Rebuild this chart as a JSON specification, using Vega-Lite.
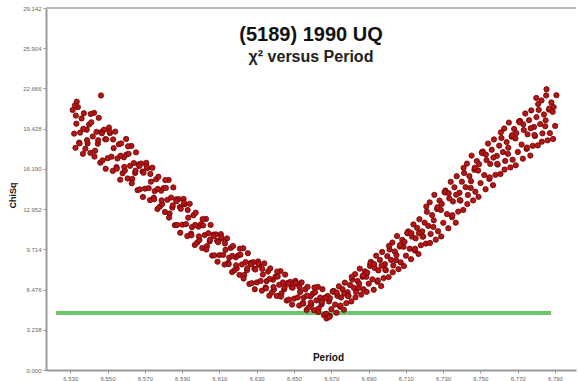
{
  "$schema": "https://vega.github.io/schema/vega-lite/v6.json",
  "width": 530,
  "height": 362,
  "autosize": {"type": "none"},
  "padding": {"left": 46, "top": 8, "right": 3, "bottom": 11},
  "background": "white",
  "config": {"font": "Liberation Sans", "view": {"stroke": null}},
  "title": {
    "text": "(5189) 1990 UQ",
    "subtitle": "χ² versus Period",
    "fontSize": 20,
    "fontWeight": "bold",
    "color": "#111",
    "subtitleFontSize": 16,
    "subtitleFontWeight": "bold",
    "subtitleColor": "#222",
    "subtitlePadding": 4,
    "anchor": "middle",
    "frame": "group",
    "offset": -60
  },
  "data": {"values": [
    {"period":6.5313,"chisq":20.93},{"period":6.5321,"chisq":19.03},{"period":6.5328,"chisq":17.89},
    {"period":6.5333,"chisq":19.83},{"period":6.5341,"chisq":21.16},{"period":6.5348,"chisq":18.31},
    {"period":6.5353,"chisq":19.11},{"period":6.5361,"chisq":20.25},{"period":6.5368,"chisq":17.4},
    {"period":6.5373,"chisq":20.67},{"period":6.5381,"chisq":17.82},{"period":6.5388,"chisq":19.34},
    {"period":6.5393,"chisq":18.24},{"period":6.5401,"chisq":19.76},{"period":6.5408,"chisq":17.48},
    {"period":6.5413,"chisq":19.94},{"period":6.5421,"chisq":18.8},{"period":6.5428,"chisq":20.7},
    {"period":6.5433,"chisq":17.65},{"period":6.5441,"chisq":19.17},{"period":6.5448,"chisq":18.22},
    {"period":6.5453,"chisq":20.3},{"period":6.5461,"chisq":16.69},{"period":6.5468,"chisq":19.16},
    {"period":6.5473,"chisq":16.87},{"period":6.5481,"chisq":19.34},{"period":6.5488,"chisq":18.58},
    {"period":6.5493,"chisq":18.57},{"period":6.5501,"chisq":17.05},{"period":6.5508,"chisq":19.52},
    {"period":6.5513,"chisq":19.07},{"period":6.5521,"chisq":17.17},{"period":6.5528,"chisq":16.03},
    {"period":6.5533,"chisq":17.86},{"period":6.5541,"chisq":19.19},{"period":6.5548,"chisq":16.34},
    {"period":6.5553,"chisq":17.03},{"period":6.5561,"chisq":18.17},{"period":6.5568,"chisq":15.32},
    {"period":6.5573,"chisq":18.24},{"period":6.5581,"chisq":15.84},{"period":6.5588,"chisq":17.12},
    {"period":6.5593,"chisq":16.06},{"period":6.5601,"chisq":17.34},{"period":6.5608,"chisq":15.42},
    {"period":6.5613,"chisq":17.4},{"period":6.5621,"chisq":16.44},{"period":6.5628,"chisq":18.04},
    {"period":6.5633,"chisq":15.38},{"period":6.5641,"chisq":16.66},{"period":6.5648,"chisq":15.86},
    {"period":6.5653,"chisq":17.52},{"period":6.5661,"chisq":14.48},{"period":6.5668,"chisq":16.56},
    {"period":6.5673,"chisq":14.54},{"period":6.5681,"chisq":16.62},{"period":6.5688,"chisq":15.98},
    {"period":6.5693,"chisq":15.88},{"period":6.5701,"chisq":14.6},{"period":6.5708,"chisq":16.68},
    {"period":6.5713,"chisq":16.24},{"period":6.5721,"chisq":14.64},{"period":6.5728,"chisq":13.68},
    {"period":6.5733,"chisq":15.16},{"period":6.5741,"chisq":16.28},{"period":6.5748,"chisq":13.88},
    {"period":6.5753,"chisq":14.4},{"period":6.5761,"chisq":15.36},{"period":6.5768,"chisq":12.96},
    {"period":6.5773,"chisq":15.56},{"period":6.5781,"chisq":13.16},{"period":6.5788,"chisq":14.44},
    {"period":6.5793,"chisq":13.36},{"period":6.5801,"chisq":14.64},{"period":6.5808,"chisq":12.72},
    {"period":6.5813,"chisq":14.66},{"period":6.5821,"chisq":13.7},{"period":6.5828,"chisq":15.3},
    {"period":6.5833,"chisq":12.6},{"period":6.5841,"chisq":13.88},{"period":6.5848,"chisq":13.08},
    {"period":6.5853,"chisq":14.7},{"period":6.5861,"chisq":11.66},{"period":6.5868,"chisq":13.74},
    {"period":6.5873,"chisq":11.68},{"period":6.5881,"chisq":13.76},{"period":6.5888,"chisq":13.12},
    {"period":6.5893,"chisq":12.98},{"period":6.5901,"chisq":11.7},{"period":6.5908,"chisq":13.78},
    {"period":6.5913,"chisq":13.34},{"period":6.5921,"chisq":11.74},{"period":6.5928,"chisq":10.78},
    {"period":6.5933,"chisq":12.26},{"period":6.5941,"chisq":13.38},{"period":6.5948,"chisq":10.98},
    {"period":6.5953,"chisq":11.5},{"period":6.5961,"chisq":12.46},{"period":6.5968,"chisq":10.06},
    {"period":6.5973,"chisq":12.66},{"period":6.5981,"chisq":10.26},{"period":6.5988,"chisq":11.54},
    {"period":6.5993,"chisq":10.46},{"period":6.6001,"chisq":11.74},{"period":6.6008,"chisq":9.82},
    {"period":6.6013,"chisq":11.64},{"period":6.6021,"chisq":10.86},{"period":6.6028,"chisq":12.16},
    {"period":6.6033,"chisq":9.97},{"period":6.6041,"chisq":11.01},{"period":6.6048,"chisq":10.36},
    {"period":6.6053,"chisq":11.68},{"period":6.6061,"chisq":9.21},{"period":6.6068,"chisq":10.9},
    {"period":6.6073,"chisq":9.23},{"period":6.6081,"chisq":10.92},{"period":6.6088,"chisq":10.4},
    {"period":6.6093,"chisq":10.29},{"period":6.6101,"chisq":9.25},{"period":6.6108,"chisq":10.94},
    {"period":6.6113,"chisq":10.57},{"period":6.6121,"chisq":9.27},{"period":6.6128,"chisq":8.49},
    {"period":6.6133,"chisq":9.68},{"period":6.6141,"chisq":10.59},{"period":6.6148,"chisq":8.64},
    {"period":6.6153,"chisq":9.05},{"period":6.6161,"chisq":9.83},{"period":6.6168,"chisq":7.88},
    {"period":6.6173,"chisq":9.98},{"period":6.6181,"chisq":8.03},{"period":6.6188,"chisq":9.07},
    {"period":6.6193,"chisq":8.18},{"period":6.6201,"chisq":9.22},{"period":6.6208,"chisq":7.66},
    {"period":6.6213,"chisq":9.28},{"period":6.6221,"chisq":8.5},{"period":6.6228,"chisq":9.8},
    {"period":6.6233,"chisq":7.65},{"period":6.6241,"chisq":8.69},{"period":6.6248,"chisq":8.04},
    {"period":6.6253,"chisq":9.4},{"period":6.6261,"chisq":6.93},{"period":6.6268,"chisq":8.62},
    {"period":6.6273,"chisq":6.99},{"period":6.6281,"chisq":8.68},{"period":6.6288,"chisq":8.16},
    {"period":6.6293,"chisq":8.09},{"period":6.6301,"chisq":7.05},{"period":6.6308,"chisq":8.74},
    {"period":6.6313,"chisq":8.47},{"period":6.6321,"chisq":7.17},{"period":6.6328,"chisq":6.39},
    {"period":6.6333,"chisq":7.68},{"period":6.6341,"chisq":8.59},{"period":6.6348,"chisq":6.64},
    {"period":6.6353,"chisq":7.15},{"period":6.6361,"chisq":7.93},{"period":6.6368,"chisq":5.98},
    {"period":6.6373,"chisq":8.18},{"period":6.6381,"chisq":6.23},{"period":6.6388,"chisq":7.27},
    {"period":6.6393,"chisq":6.48},{"period":6.6401,"chisq":7.52},{"period":6.6408,"chisq":5.96},
    {"period":6.6413,"chisq":7.52},{"period":6.6421,"chisq":6.86},{"period":6.6428,"chisq":7.96},
    {"period":6.6433,"chisq":6.17},{"period":6.6441,"chisq":7.05},{"period":6.6448,"chisq":6.5},
    {"period":6.6453,"chisq":7.68},{"period":6.6461,"chisq":5.59},{"period":6.6468,"chisq":7.02},
    {"period":6.6473,"chisq":5.67},{"period":6.6481,"chisq":7.1},{"period":6.6488,"chisq":6.66},
    {"period":6.6493,"chisq":6.63},{"period":6.6501,"chisq":5.75},{"period":6.6508,"chisq":7.18},
    {"period":6.6513,"chisq":6.95},{"period":6.6521,"chisq":5.85},{"period":6.6528,"chisq":5.19},
    {"period":6.6533,"chisq":6.28},{"period":6.6541,"chisq":7.05},{"period":6.6548,"chisq":5.4},
    {"period":6.6553,"chisq":5.83},{"period":6.6561,"chisq":6.49},{"period":6.6568,"chisq":4.84},
    {"period":6.6573,"chisq":6.7},{"period":6.6581,"chisq":5.05},{"period":6.6588,"chisq":5.93},
    {"period":6.6593,"chisq":5.26},{"period":6.6601,"chisq":6.14},{"period":6.6608,"chisq":4.82},
    {"period":6.6613,"chisq":6.26},{"period":6.6621,"chisq":5.6},{"period":6.6628,"chisq":6.7},
    {"period":6.6633,"chisq":4.95},{"period":6.6641,"chisq":5.83},{"period":6.6648,"chisq":5.28},
    {"period":6.6653,"chisq":6.5},{"period":6.6661,"chisq":4.41},{"period":6.6668,"chisq":5.84},
    {"period":6.6673,"chisq":4.53},{"period":6.6681,"chisq":5.96},{"period":6.6688,"chisq":5.52},
    {"period":6.6693,"chisq":5.78},{"period":6.6701,"chisq":4.9},{"period":6.6708,"chisq":6.33},
    {"period":6.6713,"chisq":6.37},{"period":6.6721,"chisq":5.27},{"period":6.6728,"chisq":4.61},
    {"period":6.6733,"chisq":5.97},{"period":6.6741,"chisq":6.74},{"period":6.6748,"chisq":5.09},
    {"period":6.6753,"chisq":5.84},{"period":6.6761,"chisq":6.5},{"period":6.6768,"chisq":4.85},
    {"period":6.6773,"chisq":7.03},{"period":6.6781,"chisq":5.38},{"period":6.6788,"chisq":6.26},
    {"period":6.6793,"chisq":5.96},{"period":6.6801,"chisq":6.84},{"period":6.6808,"chisq":5.52},
    {"period":6.6813,"chisq":7.28},{"period":6.6821,"chisq":6.62},{"period":6.6828,"chisq":7.72},
    {"period":6.6833,"chisq":6.29},{"period":6.6841,"chisq":7.17},{"period":6.6848,"chisq":6.62},
    {"period":6.6853,"chisq":8.16},{"period":6.6861,"chisq":6.07},{"period":6.6868,"chisq":7.5},
    {"period":6.6873,"chisq":6.51},{"period":6.6881,"chisq":7.94},{"period":6.6888,"chisq":7.5},
    {"period":6.6893,"chisq":7.83},{"period":6.6901,"chisq":6.95},{"period":6.6908,"chisq":8.38},
    {"period":6.6913,"chisq":8.7},{"period":6.6921,"chisq":7.3},{"period":6.6928,"chisq":6.46},
    {"period":6.6933,"chisq":8.22},{"period":6.6941,"chisq":9.2},{"period":6.6948,"chisq":7.1},
    {"period":6.6953,"chisq":8.02},{"period":6.6961,"chisq":8.86},{"period":6.6968,"chisq":6.76},
    {"period":6.6973,"chisq":9.5},{"period":6.6981,"chisq":7.4},{"period":6.6988,"chisq":8.52},
    {"period":6.6993,"chisq":8.04},{"period":6.7001,"chisq":9.16},{"period":6.7008,"chisq":7.48},
    {"period":6.7013,"chisq":9.7},{"period":6.7021,"chisq":8.86},{"period":6.7028,"chisq":10.26},
    {"period":6.7033,"chisq":8.42},{"period":6.7041,"chisq":9.54},{"period":6.7048,"chisq":8.84},
    {"period":6.7053,"chisq":10.78},{"period":6.7061,"chisq":8.12},{"period":6.7068,"chisq":9.94},
    {"period":6.7073,"chisq":8.66},{"period":6.7081,"chisq":10.48},{"period":6.7088,"chisq":9.92},
    {"period":6.7093,"chisq":10.32},{"period":6.7101,"chisq":9.2},{"period":6.7108,"chisq":11.02},
    {"period":6.7113,"chisq":11.16},{"period":6.7121,"chisq":9.76},{"period":6.7128,"chisq":8.92},
    {"period":6.7133,"chisq":10.74},{"period":6.7141,"chisq":11.72},{"period":6.7148,"chisq":9.62},
    {"period":6.7153,"chisq":10.6},{"period":6.7161,"chisq":11.44},{"period":6.7168,"chisq":9.34},
    {"period":6.7173,"chisq":12.14},{"period":6.7181,"chisq":10.04},{"period":6.7188,"chisq":11.16},
    {"period":6.7193,"chisq":10.74},{"period":6.7201,"chisq":11.86},{"period":6.7208,"chisq":10.18},
    {"period":6.7213,"chisq":12.74},{"period":6.7221,"chisq":11.6},{"period":6.7228,"chisq":13.5},
    {"period":6.7233,"chisq":10.95},{"period":6.7241,"chisq":12.47},{"period":6.7248,"chisq":11.52},
    {"period":6.7253,"chisq":14.1},{"period":6.7261,"chisq":10.49},{"period":6.7268,"chisq":12.96},
    {"period":6.7273,"chisq":11.17},{"period":6.7281,"chisq":13.64},{"period":6.7288,"chisq":12.88},
    {"period":6.7293,"chisq":13.37},{"period":6.7301,"chisq":11.85},{"period":6.7308,"chisq":14.32},
    {"period":6.7313,"chisq":14.45},{"period":6.7321,"chisq":12.55},{"period":6.7328,"chisq":11.41},
    {"period":6.7333,"chisq":13.82},{"period":6.7341,"chisq":15.15},{"period":6.7348,"chisq":12.3},
    {"period":6.7353,"chisq":13.57},{"period":6.7361,"chisq":14.71},{"period":6.7368,"chisq":11.86},
    {"period":6.7373,"chisq":15.6},{"period":6.7381,"chisq":12.75},{"period":6.7388,"chisq":14.27},
    {"period":6.7393,"chisq":13.64},{"period":6.7401,"chisq":15.16},{"period":6.7408,"chisq":12.88},
    {"period":6.7413,"chisq":15.86},{"period":6.7421,"chisq":14.72},{"period":6.7428,"chisq":16.62},
    {"period":6.7433,"chisq":14.09},{"period":6.7441,"chisq":15.61},{"period":6.7448,"chisq":14.66},
    {"period":6.7453,"chisq":17.26},{"period":6.7461,"chisq":13.65},{"period":6.7468,"chisq":16.12},
    {"period":6.7473,"chisq":14.35},{"period":6.7481,"chisq":16.82},{"period":6.7488,"chisq":16.06},
    {"period":6.7493,"chisq":16.57},{"period":6.7501,"chisq":15.05},{"period":6.7508,"chisq":17.52},
    {"period":6.7513,"chisq":17.59},{"period":6.7521,"chisq":15.69},{"period":6.7528,"chisq":14.55},
    {"period":6.7533,"chisq":16.9},{"period":6.7541,"chisq":18.23},{"period":6.7548,"chisq":15.38},
    {"period":6.7553,"chisq":16.59},{"period":6.7561,"chisq":17.73},{"period":6.7568,"chisq":14.88},
    {"period":6.7573,"chisq":18.56},{"period":6.7581,"chisq":15.71},{"period":6.7588,"chisq":17.23},
    {"period":6.7593,"chisq":16.54},{"period":6.7601,"chisq":18.06},{"period":6.7608,"chisq":15.78},
    {"period":6.7613,"chisq":18.68},{"period":6.7621,"chisq":17.54},{"period":6.7628,"chisq":19.44},
    {"period":6.7633,"chisq":16.83},{"period":6.7641,"chisq":18.35},{"period":6.7648,"chisq":17.4},
    {"period":6.7653,"chisq":19.92},{"period":6.7661,"chisq":16.31},{"period":6.7668,"chisq":18.78},
    {"period":6.7673,"chisq":16.93},{"period":6.7681,"chisq":19.4},{"period":6.7688,"chisq":18.64},
    {"period":6.7693,"chisq":19.07},{"period":6.7701,"chisq":17.55},{"period":6.7708,"chisq":20.02},
    {"period":6.7713,"chisq":20.05},{"period":6.7721,"chisq":18.15},{"period":6.7728,"chisq":17.01},
    {"period":6.7733,"chisq":19.32},{"period":6.7741,"chisq":20.65},{"period":6.7748,"chisq":17.8},
    {"period":6.7753,"chisq":18.97},{"period":6.7761,"chisq":20.11},{"period":6.7768,"chisq":17.26},
    {"period":6.7773,"chisq":20.9},{"period":6.7781,"chisq":18.05},{"period":6.7788,"chisq":19.57},
    {"period":6.7793,"chisq":18.84},{"period":6.7801,"chisq":20.36},{"period":6.7808,"chisq":18.08},
    {"period":6.7813,"chisq":20.94},{"period":6.7821,"chisq":19.8},{"period":6.7828,"chisq":21.7},
    {"period":6.7833,"chisq":19.05},{"period":6.7841,"chisq":20.57},{"period":6.7848,"chisq":19.62},
    {"period":6.7853,"chisq":22.1},{"period":6.7861,"chisq":18.49},{"period":6.7868,"chisq":20.96},
    {"period":6.7873,"chisq":19.07},{"period":6.7881,"chisq":21.54},{"period":6.7888,"chisq":20.78},
    {"period":6.7893,"chisq":21.17},{"period":6.7901,"chisq":19.65},{"period":6.7908,"chisq":22.12},
    {"period":6.5465,"chisq":22.1},{"period":6.5335,"chisq":21.6},{"period":6.5325,"chisq":21.3},
    {"period":6.6675,"chisq":4.15},{"period":6.6692,"chisq":4.35},{"period":6.7855,"chisq":22.6},
    {"period":6.78,"chisq":21.9},{"period":6.56,"chisq":18.6},
    {"period":6.533,"chisq":20.48},{"period":6.535,"chisq":18.24},{"period":6.537,"chisq":19.42},{"period":6.539,"chisq":18.5},
    {"period":6.541,"chisq":20.61},{"period":6.543,"chisq":17.18},{"period":6.545,"chisq":18.5},{"period":6.547,"chisq":19.06},
    {"period":6.549,"chisq":16.2},{"period":6.551,"chisq":19.2},{"period":6.553,"chisq":18.56},{"period":6.555,"chisq":16.21},
    {"period":6.557,"chisq":17.25},{"period":6.559,"chisq":16.35},{"period":6.561,"chisq":18.01},{"period":6.563,"chisq":15.03},
    {"period":6.565,"chisq":16.05},{"period":6.567,"chisq":16.43},{"period":6.569,"chisq":13.93},{"period":6.571,"chisq":16.38},
    {"period":6.573,"chisq":15.78},{"period":6.575,"chisq":13.74},{"period":6.577,"chisq":14.58},{"period":6.579,"chisq":13.66},
    {"period":6.581,"chisq":15.29},{"period":6.583,"chisq":12.27},{"period":6.585,"chisq":13.25},{"period":6.587,"chisq":13.59},
    {"period":6.589,"chisq":11.05},{"period":6.591,"chisq":13.48},{"period":6.593,"chisq":12.88},{"period":6.595,"chisq":10.84},
    {"period":6.597,"chisq":11.68},{"period":6.599,"chisq":10.76},{"period":6.601,"chisq":12.15},{"period":6.603,"chisq":9.7},
    {"period":6.605,"chisq":10.5},{"period":6.607,"chisq":10.78},{"period":6.609,"chisq":8.72},{"period":6.611,"chisq":10.69},
    {"period":6.613,"chisq":10.19},{"period":6.615,"chisq":8.52},{"period":6.617,"chisq":9.19},{"period":6.619,"chisq":8.43},
    {"period":6.621,"chisq":9.77},{"period":6.623,"chisq":7.36},{"period":6.625,"chisq":8.2},{"period":6.627,"chisq":8.52},
    {"period":6.629,"chisq":6.5},{"period":6.631,"chisq":8.54},{"period":6.633,"chisq":8.14},{"period":6.635,"chisq":6.57},
    {"period":6.637,"chisq":7.34},{"period":6.639,"chisq":6.68},{"period":6.641,"chisq":7.92},{"period":6.643,"chisq":5.91},
    {"period":6.645,"chisq":6.65},{"period":6.647,"chisq":6.95},{"period":6.649,"chisq":5.27},{"period":6.651,"chisq":7.01},
    {"period":6.653,"chisq":6.67},{"period":6.655,"chisq":5.34},{"period":6.657,"chisq":5.99},{"period":6.659,"chisq":5.43},
    {"period":6.661,"chisq":6.64},{"period":6.663,"chisq":4.67},{"period":6.665,"chisq":5.45},{"period":6.667,"chisq":5.79},
    {"period":6.669,"chisq":4.28},{"period":6.671,"chisq":6.3},{"period":6.673,"chisq":6.23},{"period":6.675,"chisq":5.19},
    {"period":6.677,"chisq":6.16},{"period":6.679,"chisq":5.95},{"period":6.681,"chisq":7.5},{"period":6.683,"chisq":5.85},
    {"period":6.685,"chisq":6.95},{"period":6.687,"chisq":7.61},{"period":6.689,"chisq":6.29},{"period":6.691,"chisq":8.59},
    {"period":6.693,"chisq":8.53},{"period":6.695,"chisq":7.21},{"period":6.697,"chisq":8.41},{"period":6.699,"chisq":8.07},
    {"period":6.701,"chisq":9.99},{"period":6.703,"chisq":7.87},{"period":6.705,"chisq":9.25},{"period":6.707,"chisq":10.07},
    {"period":6.709,"chisq":8.37},{"period":6.711,"chisq":11.02},{"period":6.713,"chisq":11.02},{"period":6.715,"chisq":9.76},
    {"period":6.717,"chisq":11.02},{"period":6.719,"chisq":10.74},{"period":6.721,"chisq":13.16},{"period":6.723,"chisq":10.23},
    {"period":6.725,"chisq":12.05},{"period":6.727,"chisq":13.11},{"period":6.729,"chisq":10.75},{"period":6.731,"chisq":14.29},
    {"period":6.733,"chisq":14.23},{"period":6.735,"chisq":12.46},{"period":6.737,"chisq":14.11},{"period":6.739,"chisq":13.67},
    {"period":6.741,"chisq":16.27},{"period":6.743,"chisq":13.36},{"period":6.745,"chisq":15.2},{"period":6.747,"chisq":16.28},
    {"period":6.749,"chisq":13.94},{"period":6.751,"chisq":17.46},{"period":6.753,"chisq":17.34},{"period":6.755,"chisq":15.51},
    {"period":6.757,"chisq":17.1},{"period":6.759,"chisq":16.6},{"period":6.761,"chisq":19.13},{"period":6.763,"chisq":16.14},
    {"period":6.765,"chisq":17.9},{"period":6.767,"chisq":18.9},{"period":6.769,"chisq":16.48},{"period":6.771,"chisq":19.94},
    {"period":6.773,"chisq":19.78},{"period":6.775,"chisq":17.91},{"period":6.777,"chisq":19.46},{"period":6.779,"chisq":18.92},
    {"period":6.781,"chisq":21.41},{"period":6.783,"chisq":18.38},{"period":6.785,"chisq":20.1},{"period":6.787,"chisq":21.06},
    {"period":6.789,"chisq":18.6}
  ]},
  "layer": [
    {
      "mark": {"type": "rule", "color": "#bdbdbd", "strokeWidth": 2},
      "encoding": {"y": {"datum": 29.142, "type": "quantitative"}}
    },
    {
      "mark": {"type": "rule", "color": "#6cc56c", "strokeWidth": 3},
      "encoding": {
        "x": {"datum": 6.5225, "type": "quantitative"},
        "x2": {"datum": 6.7875},
        "y": {"datum": 4.59, "type": "quantitative"}
      }
    },
    {
      "mark": {"type": "circle", "size": 28, "fill": "#b51515", "stroke": "#6e0000", "strokeWidth": 0.8, "opacity": 1},
      "encoding": {
        "x": {
          "field": "period", "type": "quantitative",
          "scale": {"domain": [6.517, 6.8013], "nice": false, "zero": false},
          "axis": {
            "values": [6.53, 6.55, 6.57, 6.59, 6.61, 6.63, 6.65, 6.67, 6.69, 6.71, 6.73, 6.75, 6.77, 6.79],
            "format": ".3f",
            "title": "Period",
            "titleFontSize": 10,
            "titleFontWeight": "bold",
            "titleColor": "#111",
            "titleX": 282,
            "titleY": -13,
            "titleBaseline": "middle",
            "labelFontSize": 6,
            "labelColor": "#666",
            "labelPadding": 2,
            "domainColor": "#9a9a9a",
            "domainWidth": 2,
            "tickColor": "#9a9a9a",
            "tickSize": 3,
            "grid": false
          }
        },
        "y": {
          "field": "chisq", "type": "quantitative",
          "scale": {"domain": [0, 29.142], "nice": false},
          "axis": {
            "values": [0, 3.238, 6.476, 9.714, 12.952, 16.19, 19.428, 22.666, 25.904, 29.142],
            "format": ".3f",
            "title": "ChiSq",
            "titleFontSize": 9,
            "titleFontWeight": "bold",
            "titleColor": "#111",
            "titleX": -34,
            "titleY": 187,
            "titleAlign": "center",
            "titleBaseline": "middle",
            "labelFontSize": 6,
            "labelColor": "#666",
            "labelPadding": 2,
            "domainColor": "#9a9a9a",
            "domainWidth": 2,
            "tickColor": "#9a9a9a",
            "tickSize": 3,
            "grid": false
          }
        }
      }
    }
  ]
}
